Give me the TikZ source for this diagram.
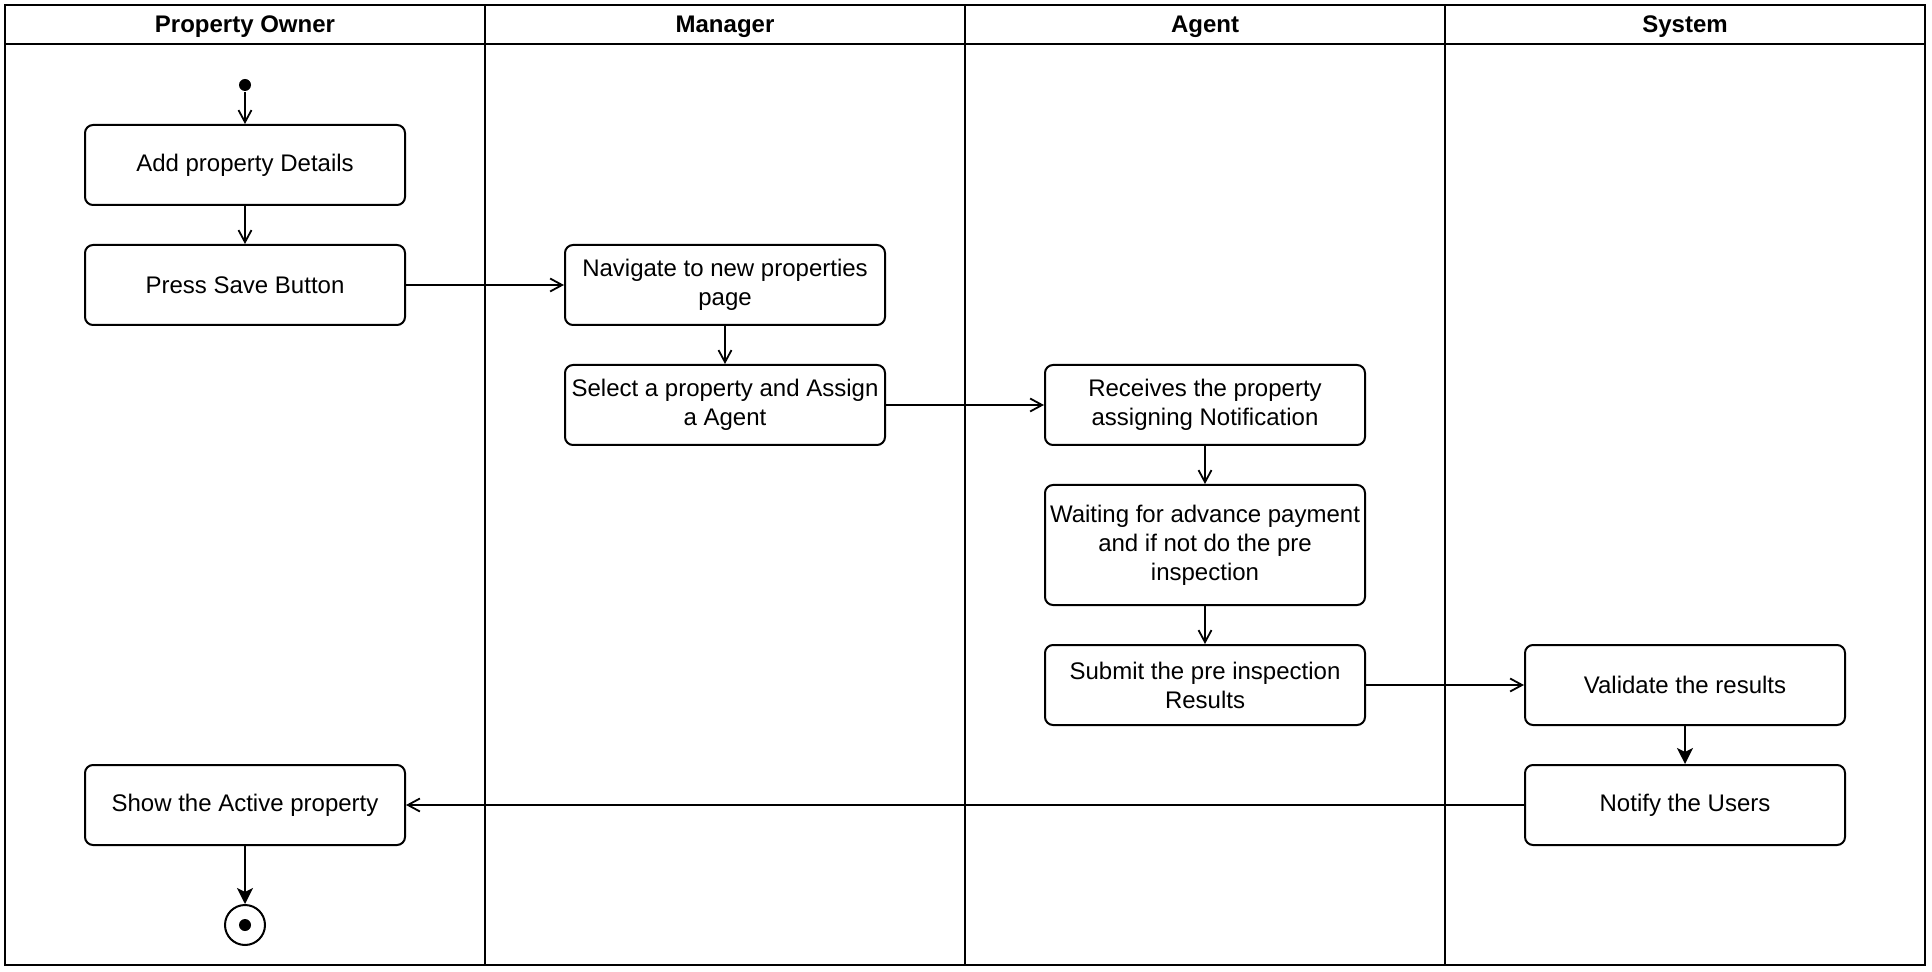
\documentclass[tikz,border=0pt]{standalone}
\usepackage{fontspec}
\setmainfont{Liberation Sans}
\usetikzlibrary{arrows.meta}

\begin{document}
\begin{tikzpicture}[x=0.5pt,y=-0.5pt,line width=1pt,
    act/.style={draw,rounded corners=4pt,minimum width=160pt,minimum height=40pt,
      inner sep=2pt,align=center,font=\fontsize{12}{14.5}\selectfont},
    lanehead/.style={font=\fontsize{12}{14.5}\selectfont\bfseries},
    flow/.style={-{Straight Barb[length=6pt,width=6.5pt]},line width=0.9pt},
    solidflow/.style={-{Stealth[length=8pt,width=8pt,inset=2pt]},line width=0.9pt}]
		\useasboundingbox (0,0) rectangle (1932,972);

		% swimlanes
		\draw (5,5) rectangle (1925,965);
		\draw (5,44) -- (1925,44);
		\foreach \x in {485,965,1445}
		  \draw (\x,5) -- (\x,965);
		\node[lanehead] (ownerHead) at (245,27) {Property Owner};
		\node[lanehead] (managerHead) at (725,27) {Manager};
		\node[lanehead] (agentHead) at (1205,27) {Agent};
		\node[lanehead] (systemHead) at (1685,27) {System};

		% start / end
		\node[circle,fill,inner sep=0pt,minimum size=6pt] (start) at (245,85) {};
		\node[circle,draw,inner sep=0pt,minimum size=20pt] (final) at (245,925) {};
		\fill (final.center) circle (3pt);

		% actions
		\node[act] (addDetails) at (245,165) {Add property Details};
		\node[act] (pressSave) at (245,285) {Press Save Button};
		\node[act] (navigate) at (725,285) {Navigate to new properties\\page};
		\node[act] (assignAgent) at (725,405) {Select a property and Assign\\a Agent};
		\node[act] (receives) at (1205,405) {Receives the property\\assigning Notification};
		\node[act,minimum height=60pt] (waiting) at (1205,545) {Waiting for advance payment\\and if not do the pre\\inspection};
		\node[act] (submit) at (1205,685) {Submit the pre inspection\\Results};
		\node[act] (validate) at (1685,685) {Validate the results};
		\node[act] (notify) at (1685,805) {Notify the Users};
		\node[act] (showActive) at (245,805) {Show the Active property};

		% flows
		\draw[flow] (start) -- (addDetails);
		\draw[flow] (addDetails) -- (pressSave);
		\draw[flow] (pressSave) -- (navigate);
		\draw[flow] (navigate) -- (assignAgent);
		\draw[flow] (assignAgent) -- (receives);
		\draw[flow] (receives) -- (waiting);
		\draw[flow] (waiting) -- (submit);
		\draw[flow] (submit) -- (validate);
		\draw[solidflow] (validate) -- (notify);
		\draw[flow] (notify) -- (showActive);
		\draw[solidflow] (showActive) -- (final);
\end{tikzpicture}
\end{document}
